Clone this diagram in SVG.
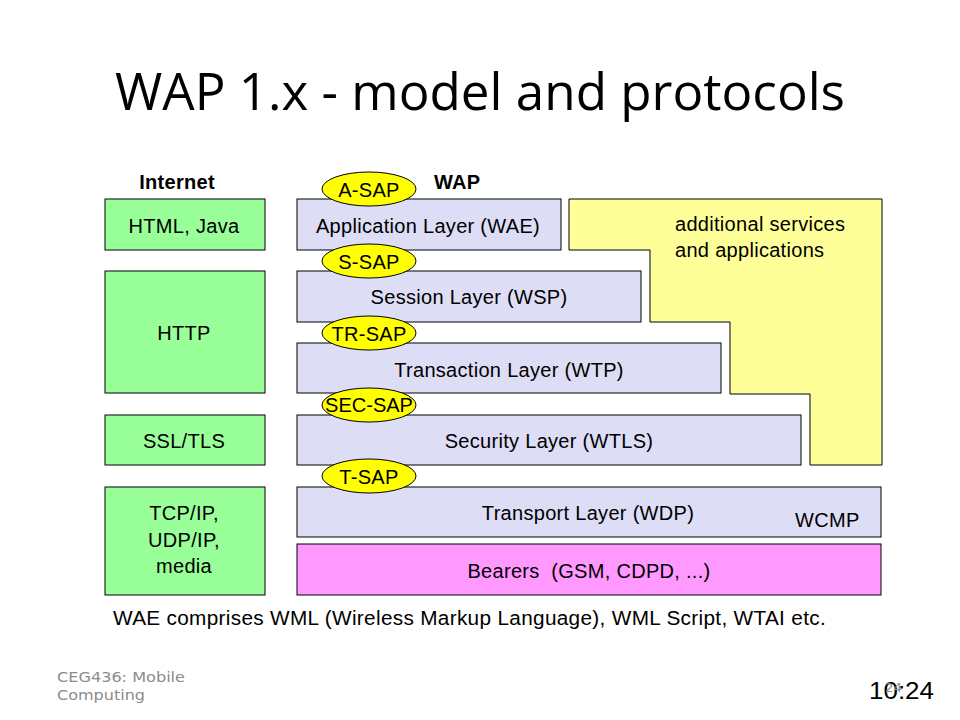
<svg xmlns="http://www.w3.org/2000/svg" width="960" height="720" viewBox="0 0 960 720">
<style>
.g{fill:#99ff99;stroke:#000;stroke-width:1}
.p{fill:#ddddf5;stroke:#000;stroke-width:1}
.e{fill:#ffff00;stroke:#000;stroke-width:1}
.t{font-family:"Liberation Sans",Arial,sans-serif;font-size:20px;fill:#000;letter-spacing:0.3px}
.c{text-anchor:middle}
.b{font-weight:bold}
.f{font-family:"DejaVu Sans",sans-serif;fill:#8c8c8c}
</style>
<rect width="960" height="720" fill="#fff"/>
<text x="115" y="110" font-family="'Open Sans','Liberation Sans',sans-serif" font-size="52" textLength="730" lengthAdjust="spacingAndGlyphs">WAP 1.x - model and protocols</text>
<text class="t b c" x="177" y="189">Internet</text>
<text class="t b" x="434" y="189">WAP</text>
<g id="yellow">
<polygon points="569,199 882,199 882,465 810,465 810,394 730,394 730,322 650,322 650,250 569,250" fill="#ffff99" stroke="#000"/>
<text class="t" x="675" y="231">additional services</text>
<text class="t" x="675" y="257">and applications</text>
</g>
<g id="html"><rect class="g" x="105" y="199" width="160" height="51"/><text class="t c" x="184" y="233">HTML, Java</text></g>
<g id="http"><rect class="g" x="105" y="271" width="160" height="122"/><text class="t c" x="184" y="340">HTTP</text></g>
<g id="ssl"><rect class="g" x="105" y="415" width="160" height="50"/><text class="t c" x="184" y="448">SSL/TLS</text></g>
<g id="tcp"><rect class="g" x="105" y="487" width="160" height="108"/><text class="t c" x="184" y="520">TCP/IP,</text><text class="t c" x="184" y="547">UDP/IP,</text><text class="t c" x="184" y="573">media</text></g>
<g id="wae"><rect class="p" x="297" y="199" width="264" height="51"/><text class="t c" x="428" y="233">Application Layer (WAE)</text></g>
<g id="wsp"><rect class="p" x="297" y="271" width="344" height="51"/><text class="t c" x="469" y="304">Session Layer (WSP)</text></g>
<g id="wtp"><rect class="p" x="297" y="343" width="424" height="50"/><text class="t c" x="509" y="377">Transaction Layer (WTP)</text></g>
<g id="wtls"><rect class="p" x="297" y="415" width="504" height="50"/><text class="t c" x="549" y="448">Security Layer (WTLS)</text></g>
<g id="wdp"><rect class="p" x="297" y="487" width="584" height="50"/><text class="t c" x="588" y="520">Transport Layer (WDP)</text><text class="t" x="795" y="527">WCMP</text></g>
<g id="bearers"><rect x="297" y="544" width="584" height="51" fill="#ff99ff" stroke="#000"/><text class="t c" x="589" y="578" xml:space="preserve">Bearers  (GSM, CDPD, ...)</text></g>
<g id="saps">
<ellipse class="e" cx="369" cy="189" rx="47" ry="17"/><text class="t c" x="369" y="197">A-SAP</text>
<ellipse class="e" cx="369" cy="261" rx="47" ry="17"/><text class="t c" x="369" y="269">S-SAP</text>
<ellipse class="e" cx="369" cy="333" rx="47" ry="17"/><text class="t c" x="369" y="341">TR-SAP</text>
<ellipse class="e" cx="369" cy="405" rx="47" ry="17"/><text class="t c" x="369" y="412" style="letter-spacing:0">SEC-SAP</text>
<ellipse class="e" cx="369" cy="476" rx="47" ry="17"/><text class="t c" x="369" y="484">T-SAP</text>
</g>
<g id="connectors"></g>
<text class="t" x="113" y="625" textLength="713" lengthAdjust="spacingAndGlyphs">WAE comprises WML (Wireless Markup Language), WML Script, WTAI etc.</text>
<text class="f" x="57" y="682" font-size="14" textLength="128" lengthAdjust="spacingAndGlyphs">CEG436: Mobile</text>
<text class="f" x="57" y="700" font-size="14" textLength="88" lengthAdjust="spacingAndGlyphs">Computing</text>
<text x="869" y="699" font-family="'Liberation Sans',sans-serif" font-size="24" textLength="65" lengthAdjust="spacingAndGlyphs">10:24</text>
<text class="f" x="885" y="692" font-size="13" textLength="17" lengthAdjust="spacingAndGlyphs">24</text>
</svg>
